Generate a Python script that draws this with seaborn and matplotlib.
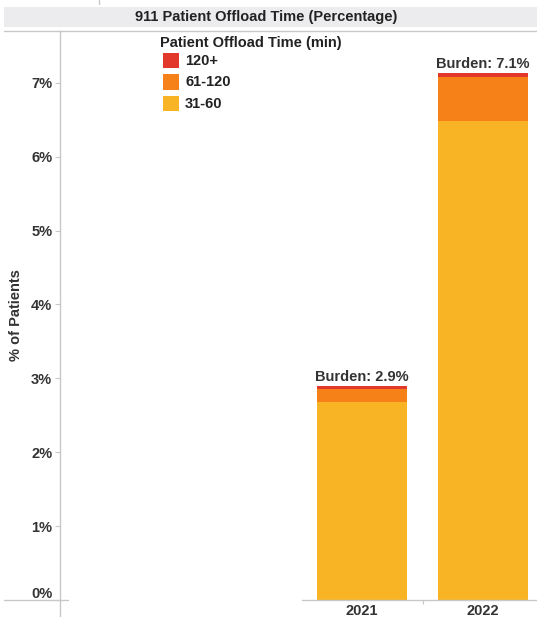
import matplotlib
matplotlib.use("Agg")
import matplotlib.pyplot as plt
import matplotlib.transforms as mtransforms
import seaborn as sns
import pandas as pd
from matplotlib.lines import Line2D
from matplotlib.patches import Rectangle

# ---- data ----
years = ["2021", "2022"]
min_31_60 = [2.68, 6.48]
min_61_120 = [0.175, 0.60]
min_120_plus = [0.045, 0.055]
burden_labels = ["Burden: 2.9%", "Burden: 7.1%"]
legend_labels = ["120+", "61-120", "31-60"]
legend_title = "Patient Offload Time (min)"
chart_title = "911 Patient Offload Time (Percentage)"
y_label = "% of Patients"
yticks = [0, 1, 2, 3, 4, 5, 6, 7]
ytick_labels = [f"{t}%" for t in yticks]
colors = {"31-60": "#F8B425", "61-120": "#F68118", "120+": "#E2382B"}

sns.set_theme(style="white")
plt.rcParams['font.family'] = ['Liberation Sans', 'DejaVu Sans']

W, H = 537, 617
fig = plt.figure(figsize=(W / 100, H / 100), dpi=100)


def fx(x):
    return x / W


def fy(y):
    return 1 - y / H


GRID = "#C8C8C8"
TXT = "#333333"
FS = 10.5

ax = fig.add_axes([fx(60), fy(600), fx(537) - fx(60), fy(31) - fy(600)])

df = pd.DataFrame({"year": years, "31-60": min_31_60,
                   "61-120": min_61_120, "120+": min_120_plus})
df["cum_61"] = df["31-60"] + df["61-120"]
df["total"] = df["cum_61"] + df["120+"]

for col, key in [("total", "120+"), ("cum_61", "61-120"), ("31-60", "31-60")]:
    sns.barplot(data=df, x="year", y=col, order=years, color=colors[key],
                width=0.744, saturation=1, ax=ax, linewidth=0, errorbar=None)

ax.set_xlim(-2.496, 1.446)
ax.set_ylim(0, 7.70)
ax.set_xlabel("")
ax.set_ylabel("")

for s in ["top", "right", "bottom"]:
    ax.spines[s].set_visible(False)
ax.spines["left"].set_color(GRID)
ax.spines["left"].set_linewidth(1)

ax.set_yticks(yticks, ytick_labels)
ax.tick_params(axis="y", which="major", left=True, length=3.6, width=0.8,
               color=GRID, pad=2, labelsize=FS, labelcolor=TXT)
for lab in ax.get_yticklabels():
    lab.set_fontweight("bold")
# the 0% label sits a little above its tick, as in the reference
zero_lab = ax.get_yticklabels()[0]
zero_lab.set_transform(zero_lab.get_transform() +
                       mtransforms.ScaledTranslation(0, 8 / 100, fig.dpi_scale_trans))

ax.set_xticks([0, 1], years)
ax.tick_params(axis="x", which="major", bottom=True, length=0, pad=3,
               labelsize=FS, labelcolor=TXT)
for lab in ax.get_xticklabels():
    lab.set_fontweight("bold")
ax.set_xticks([0.5], minor=True)
ax.tick_params(axis="x", which="minor", bottom=True, length=3, width=0.8,
               color=GRID)

# burden labels
for i, lab in enumerate(burden_labels):
    ax.annotate(lab, (i, df["total"][i]), xytext=(0, 1.5),
                textcoords="offset points", ha="center", va="bottom",
                fontsize=FS, fontweight="bold", color=TXT)

# y label
fig.text(fx(16), fy(315), y_label, rotation=90, ha="center", va="center",
         fontsize=FS, fontweight="bold", color=TXT)

# title bar
fig.add_artist(Rectangle((fx(4), fy(27)), fx(537) - fx(4), fy(7) - fy(27),
                         transform=fig.transFigure, facecolor="#ECECEF",
                         edgecolor="none", zorder=0))
fig.text(fx(266), fy(17), chart_title, ha="center", va="center",
         fontsize=FS, fontweight="bold", color="#222222")

# frame lines
lines = [((4, 537), (31, 31)), ((4, 68), (600, 600)), ((302, 537), (600, 600)),
         ((60, 60), (600, 617)), ((98.5, 98.5), (0, 4))]
for (x0, x1), (y0, y1) in lines:
    fig.add_artist(Line2D([fx(x0), fx(x1)], [fy(y0), fy(y1)],
                          transform=fig.transFigure, color=GRID, lw=1))

# legend
fig.text(fx(160.5), fy(42.5), legend_title, ha="left", va="center",
         fontsize=FS, fontweight="bold", color="#222222")
for j, lab in enumerate(legend_labels):
    top = 53 + j * 21.5
    fig.add_artist(Rectangle((fx(163), fy(top + 15)), fx(16) - fx(0),
                             fy(0) - fy(15), transform=fig.transFigure,
                             facecolor=colors[lab], edgecolor="none"))
    fig.text(fx(185), fy(top + 8), lab, ha="left", va="center",
             fontsize=FS, fontweight="bold", color="#222222")

fig.savefig("out.png", dpi=100)
